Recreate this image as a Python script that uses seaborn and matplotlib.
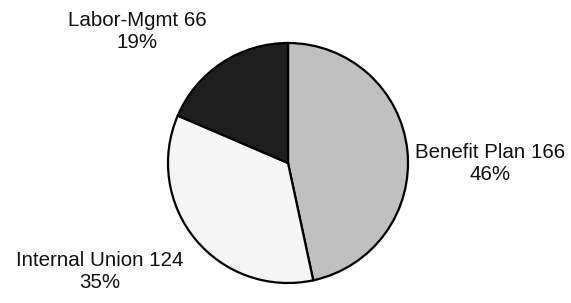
import matplotlib
matplotlib.use("Agg")
import matplotlib.pyplot as plt
import seaborn as sns

# Data
categories = ["Benefit Plan", "Internal Union", "Labor-Mgmt"]
counts = [166, 124, 66]
percents = [46, 35, 19]
colors = ["#c0c0c0", "#f5f5f5", "#1e1e1e"]

sns.set_theme(style="white")
plt.rcParams['font.family'] = ['Liberation Sans', 'DejaVu Sans']

fig = plt.figure(figsize=(5.71, 3.03), dpi=100)
ax = fig.add_axes([0, 0, 1, 1])

# pie in pixel-like units: center and radius
cx, cy, r = 288, 140, 120
ax.pie(counts, colors=colors, startangle=90, counterclock=False,
       center=(cx, cy), radius=r,
       wedgeprops=dict(edgecolor="black", linewidth=1.6))

# label anchor positions (centre of each two-line label)
label_pos = [(490, 140), (100, 32), (137, 271)]
for name, n, p, (x, y) in zip(categories, counts, percents, label_pos):
    ax.text(x, y, f"{name} {n}\n{p}%", ha="center", va="center",
            fontsize=14.8, linespacing=1.2, color="#111111")

ax.set_xlim(0, 571)
ax.set_ylim(0, 303)
ax.set_aspect("equal")
ax.axis("off")

plt.savefig("out.png", dpi=100)
